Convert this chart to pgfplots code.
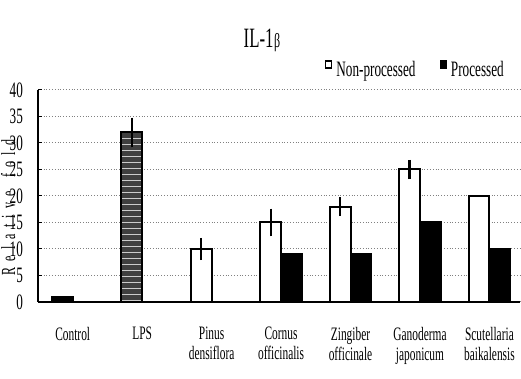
\documentclass[border=0pt]{standalone}
\usepackage{fontspec}
\setmainfont{Liberation Serif}[FakeStretch=0.6]
\newfontfamily\labelfont{Liberation Serif}
\usepackage{pgfplots}
\usetikzlibrary{patterns}
\pgfplotsset{compat=1.18}
\newcommand\ls{\hspace{3.2pt}}
\begin{document}
\begin{tikzpicture}[x=1pt,y=1pt]
\path[use as bounding box] (0,0) rectangle (260.5,189.5);
\node[font=\fontsize{14}{15}\selectfont] at (131,169.5) {IL-1\kern0.3pt{\fontsize{10}{11}\selectfont β}};
\begin{axis}[
  at={(19pt,38.5pt)}, anchor=south west,
  scale only axis, width=241pt, height=106pt,
  xmin=-0.5, xmax=6.44, ymin=0, ymax=40,
  axis x line*=bottom, axis y line*=left,
  axis line style={line width=0.9pt},
  /pgf/number format/assume math mode=true,
  ytick={0,5,...,40},
  ymajorgrids,
  grid style={densely dotted, gray, line width=0.5pt},
  ytick style={black, line width=0.5pt},
  tick align=inside,
  major tick length=2pt,
  yticklabel style={font=\fontsize{11}{12}\selectfont, xshift=-4pt},
  xtick={0,...,6},
  xticklabels={Control, LPS, Pinus\\densiflora, Cornus\\officinalis, Zingiber\\officinale, Ganoderma\\japonicum, Scutellaria\\baikalensis},
  xticklabel style={font=\fontsize{9.5}{10}\selectfont, align=center, anchor=north, yshift=-9pt},
  x tick style={draw=none},
  extra x ticks={0.5,1.5,2.5,3.5,4.5,5.5},
  extra x tick labels={},
  extra x tick style={tick align=inside, major tick length=3pt, tick style={draw=black, line width=0.6pt}},
  ylabel={R\ls e\ls l\ls a\ls t\ls i\ls v\ls e\ls\ls f\ls o\ls l\ls d},
  ylabel style={font=\labelfont\fontsize{10}{11}\selectfont},
  every axis y label/.style={at={(axis description cs:-0.062,0.446)}, rotate=90, anchor=center},
  legend style={at={(0.785,1.094)}, anchor=center, draw=none, fill=none,
    font=\fontsize{11}{12}\selectfont, legend columns=2,
    /tikz/every even column/.append style={column sep=10pt},
    legend cell align=left, inner sep=0pt},
  error bars/error bar style={line width=1.1pt, black},
  error bars/error mark options={line width=1.1pt, black, mark size=1.6pt},
]
% Non-processed (with error bars)
\addplot[ybar, bar width=0.3, bar shift=0, draw=black, line width=1pt, fill=white,
  legend image code/.code={\draw[black, line width=0.7pt, fill=white] (0pt,1pt) rectangle (3pt,4.5pt);},
  error bars/.cd, y dir=both, y explicit]
  coordinates {(1.85,10) +- (0,1.5) (2.85,15) +- (0,2) (3.85,18) +- (0,1.2) (4.85,25) +- (0,1.2)};
\addlegendentry{Non-processed}
% Processed
\addplot[ybar, bar width=0.3, bar shift=0, draw=black, line width=1pt, fill=black,
  legend image code/.code={\draw[black, line width=0.7pt, fill=black] (0pt,1pt) rectangle (3pt,4.5pt);}]
  coordinates {(3.15,9) (4.15,9) (5.15,15) (6.15,10)};
\addlegendentry{Processed}
% Scutellaria non-processed (no error bar)
\addplot[ybar, bar width=0.3, bar shift=0, draw=black, line width=1pt, fill=white, forget plot]
  coordinates {(5.85,20)};
% Control
\addplot[ybar, bar width=0.3, bar shift=0, draw=black, line width=1pt, fill=black, forget plot]
  coordinates {(-0.15,1)};
% LPS
\addplot[ybar, bar width=0.3, bar shift=0, draw=black, line width=1pt, fill=black!75,
  postaction={pattern=horizontal lines, pattern color=white!80!black}, forget plot,
  error bars/.cd, y dir=both, y explicit]
  coordinates {(0.85,32) +- (0,2.2)};
\end{axis}
\end{tikzpicture}
\end{document}
